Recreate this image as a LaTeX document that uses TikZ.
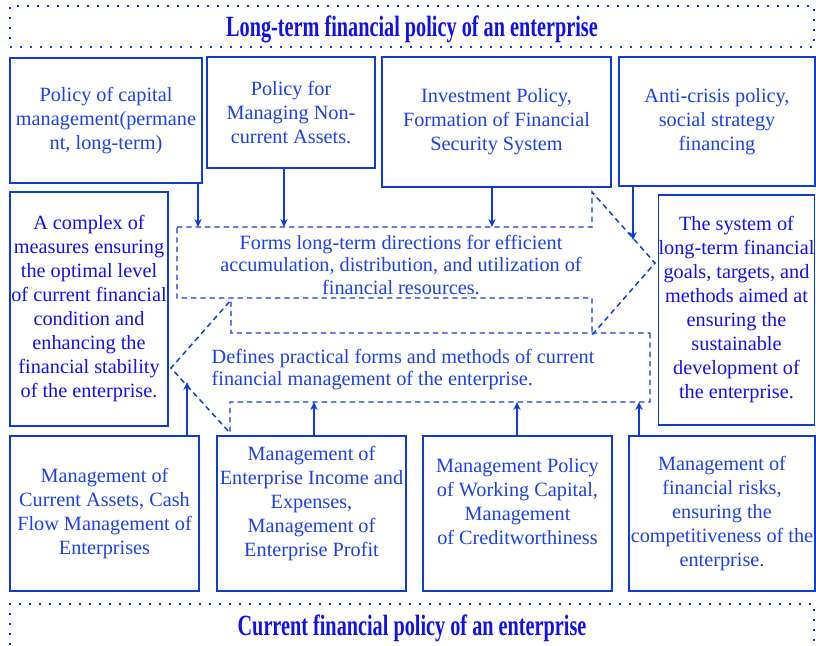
\documentclass[tikz,border=0pt]{standalone}
\usepackage{fontspec}
\setmainfont{Liberation Serif}
\usepackage{graphicx}
\usetikzlibrary{arrows.meta,positioning}

\definecolor{boxblue}{RGB}{12,60,210}
\definecolor{txtblue}{RGB}{28,64,228}
\definecolor{headblue}{RGB}{16,16,235}

\tikzset{
  >={Stealth[length=6pt,width=5.5pt]},
  box/.style={draw=boxblue, line width=1.9pt, text=txtblue, align=center, inner sep=0pt,
    font=\fontsize{15.2pt}{18pt}\selectfont},
  sidebox/.style={box, line width=1.1pt, text=headblue},
  flow/.style={draw=boxblue, line width=1.1pt, dash pattern=on 4pt off 3pt},
  flowtext/.style={text=txtblue, inner sep=0pt, font=\fontsize{15.2pt}{17pt}\selectfont},
  link/.style={draw=boxblue, line width=1.5pt, ->},
  banner/.style={draw=boxblue, line width=1.5pt, dash pattern=on 1.5pt off 6pt, text=headblue,
    inner sep=0pt, text depth=0pt, minimum width=603pt},
}

\begin{document}
\begin{tikzpicture}[x=0.75pt, y=-0.75pt]
\useasboundingbox (0,0) rectangle (816,645);

\node[banner, minimum height=30.75pt] (longpol) at (412,26.5) {\scalebox{0.69}[1]{\fontsize{22pt}{22pt}\selectfont\bfseries Long-term financial policy of an enterprise}};
\node[banner, minimum height=32.25pt] (curpol) at (412,625.5) {\scalebox{0.69}[1]{\fontsize{22pt}{22pt}\selectfont\bfseries Current financial policy of an enterprise}};

\node[box, minimum width=144pt, minimum height=93.75pt] (capital) at (106,120.5) {Policy of capital\\ management(permane\\ nt, long-term)};
\node[box, minimum width=126pt, minimum height=83.25pt] (noncur) at (291,112.5) {Policy for\\ Managing Non-\\ current Assets.};
\node[box, minimum width=171.75pt, minimum height=97.5pt] (invest) at (496.5,122) {Investment Policy,\\ Formation of Financial\\ Security System};
\node[box, minimum width=147pt, minimum height=96.75pt] (crisis) at (717,121.5) {Anti-crisis policy,\\ social strategy\\ financing};

\node[sidebox, minimum width=118.5pt, minimum height=175.5pt] (complex) at (89,309) {A complex of\\ measures ensuring\\ the optimal level\\ of current financial\\ condition and\\ enhancing the\\ financial stability\\ of the enterprise.};
\node[sidebox, minimum width=116.25pt, minimum height=172.5pt] (goals) at (736.5,310) {The system of\\ long-term financial\\ goals, targets, and\\ methods aimed at\\ ensuring the\\ sustainable\\ development of\\ the enterprise.};

\node[box, minimum width=141.75pt, minimum height=116.25pt] (assets) at (104.5,513.5) {Management of\\ Current Assets, Cash\\ Flow Management of\\ Enterprises};
\node[box, minimum width=141.75pt, minimum height=116.25pt] (income) at (311.5,513.5) {Management of\\ Enterprise Income and\\ Expenses,\\ Management of\\ Enterprise Profit\\ \mbox{}};
\node[box, minimum width=141.75pt, minimum height=116.25pt] (working) at (517.5,513.5) {Management Policy\\ of Working Capital,\\ Management\\ of Creditworthiness\\ \mbox{}};
\node[box, minimum width=139.5pt, minimum height=116.25pt] (risks) at (722,513.5) {Management of\\ financial risks,\\ ensuring the\\ competitiveness of the\\ enterprise.};

\draw[flow] (177,227) -- (592,227) -- (592,192) -- (655,263) -- (592,335) -- (592,298) -- (177,298) -- cycle;
\draw[flow] (650,333) -- (650,402) -- (230,402) -- (230,433) -- (171,368) -- (231,300) -- (231,333) -- cycle;
\node[flowtext, align=center] (longdir) at (401,265) {Forms long-term directions for efficient\\ accumulation, distribution, and utilization of\\ financial resources.};
\node[flowtext, align=left] (curdir) at (403,369.5) {Defines practical forms and methods of current\\ financial management of the enterprise.};

\coordinate (inA) at (198,227);
\coordinate (inB) at (284,227);
\coordinate (inC) at (492,227);
\coordinate (inD) at (633,240);
\coordinate (upA) at (187,382);
\coordinate (upB) at (314,402);
\coordinate (upC) at (517,402);
\coordinate (upD) at (639,402);

\draw[link] (capital.south -| inA) -- (inA);
\draw[link] (noncur.south -| inB) -- (inB);
\draw[link] (invest.south -| inC) -- (inC);
\draw[link] (crisis.south -| inD) -- (inD);
\draw[link] (assets.north -| upA) -- (upA);
\draw[link] (income.north -| upB) -- (upB);
\draw[link] (working.north -| upC) -- (upC);
\draw[link] (risks.north -| upD) -- (upD);
\end{tikzpicture}
\end{document}
